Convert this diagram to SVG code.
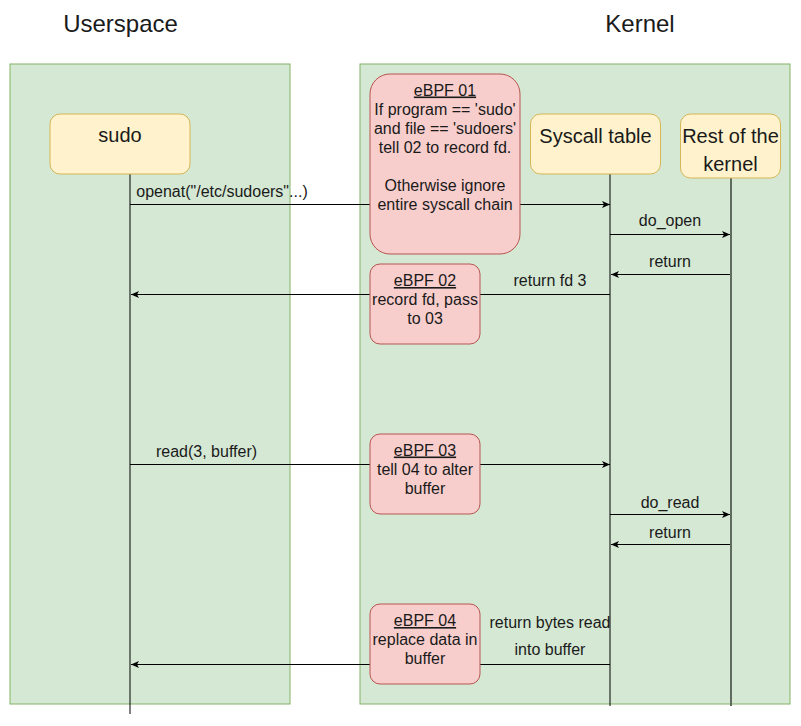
<svg xmlns="http://www.w3.org/2000/svg" width="801" height="726" viewBox="0 0 801 726">
<style>
text { font-family: "Liberation Sans", Arial, Helvetica, sans-serif; fill: #1a1a1a; }
.title { font-size: 24px; text-anchor: middle; }
.big { font-size: 20px; text-anchor: middle; }
.mid { font-size: 16px; text-anchor: middle; }
.lbl { font-size: 16px; text-anchor: middle; }
.u { text-decoration: underline; }
.zone { fill: #d5e8d4; stroke: #82b366; stroke-width: 1; }
.actor { fill: #fff2cc; stroke: #d6b656; stroke-width: 1; }
.ebpf { fill: #f8cecc; stroke: #b85450; stroke-width: 1; }
.life { stroke: #000; stroke-width: 1; fill: none; }
.life2 { stroke: #606b60; stroke-width: 2; fill: none; }
.msg { stroke: #000; stroke-width: 1; fill: none; }
.fwd { marker-end: url(#arr); }
</style>
<defs>
<marker id="arr" markerWidth="8" markerHeight="8" viewBox="0 0 8 8" refX="8" refY="4" orient="auto" markerUnits="userSpaceOnUse">
<path d="M0,0.5 L8,4 L0,7.5 L2,4 Z" fill="#000"/>
</marker>
</defs>
<rect width="801" height="726" fill="#ffffff"/>

<g id="titles">
<text class="title" x="120.5" y="32">Userspace</text>
<text class="title" x="640" y="32">Kernel</text>
</g>

<g id="userspace-zone"><rect class="zone" x="10" y="64" width="280" height="640"/></g>
<g id="kernel-zone"><rect class="zone" x="360" y="64" width="430" height="640"/></g>

<g id="sudo">
<line class="life" x1="130" y1="174" x2="130" y2="714"/>
<rect class="actor" x="50" y="114" width="140" height="60" rx="10"/>
<text class="big" x="120" y="142">sudo</text>
</g>

<g id="syscall-table">
<line class="life" x1="610" y1="174" x2="610" y2="706"/>
<rect class="actor" x="530.5" y="114" width="130" height="60" rx="10"/>
<text class="big" x="595.5" y="142.5">Syscall table</text>
</g>

<g id="rest-of-kernel">
<line class="life2" x1="731" y1="178" x2="731" y2="706"/>
<rect class="actor" x="680.5" y="114" width="100" height="64" rx="10"/>
<text class="big" x="730.5" y="142.5">Rest of the</text>
<text class="big" x="730.5" y="170.5">kernel</text>
</g>

<g id="connectors">
<line class="msg fwd" x1="130" y1="204.5" x2="610" y2="204.5"/>
<text class="lbl" x="222" y="197" style="text-anchor:middle">openat("/etc/sudoers"...)</text>
<line class="msg fwd" x1="610" y1="234.5" x2="730" y2="234.5"/>
<text class="lbl" x="670" y="226">do_open</text>
<line class="msg fwd" x1="730" y1="274.5" x2="611" y2="274.5"/>
<text class="lbl" x="670" y="267">return</text>
<line class="msg fwd" x1="610" y1="294.5" x2="131" y2="294.5"/>
<text class="lbl" x="550" y="286">return fd 3</text>
<line class="msg fwd" x1="130" y1="464.5" x2="610" y2="464.5"/>
<text class="lbl" x="206.5" y="457">read(3, buffer)</text>
<line class="msg fwd" x1="610" y1="514.5" x2="730" y2="514.5"/>
<text class="lbl" x="670" y="508">do_read</text>
<line class="msg fwd" x1="730" y1="544.5" x2="611" y2="544.5"/>
<text class="lbl" x="670" y="538">return</text>
<line class="msg fwd" x1="610" y1="664.5" x2="131" y2="664.5"/>
<text class="lbl" x="550" y="628">return bytes read</text>
<text class="lbl" x="550" y="655">into buffer</text>
</g>

<g id="ebpf-01">
<rect class="ebpf" x="370" y="74" width="150" height="180" rx="20"/>
<text class="mid u" x="445" y="95.5">eBPF 01</text>
<text class="mid" x="445" y="114.5">If program == 'sudo'</text>
<text class="mid" x="445" y="133.5">and file == 'sudoers'</text>
<text class="mid" x="445" y="152.5">tell 02 to record fd.</text>
<text class="mid" x="445" y="190.5">Otherwise ignore</text>
<text class="mid" x="445" y="209.5">entire syscall chain</text>
</g>

<g id="ebpf-02">
<rect class="ebpf" x="370" y="264" width="110" height="80" rx="10"/>
<text class="mid u" x="425" y="286">eBPF 02</text>
<text class="mid" x="425" y="305">record fd, pass</text>
<text class="mid" x="425" y="324">to 03</text>
</g>

<g id="ebpf-03">
<rect class="ebpf" x="370" y="434" width="110" height="80" rx="10"/>
<text class="mid u" x="425" y="455.5">eBPF 03</text>
<text class="mid" x="425" y="474.5">tell 04 to alter</text>
<text class="mid" x="425" y="493.5">buffer</text>
</g>

<g id="ebpf-04">
<rect class="ebpf" x="370" y="604" width="110" height="80" rx="10"/>
<text class="mid u" x="425" y="626">eBPF 04</text>
<text class="mid" x="425" y="645">replace data in</text>
<text class="mid" x="425" y="664">buffer</text>
</g>
</svg>
